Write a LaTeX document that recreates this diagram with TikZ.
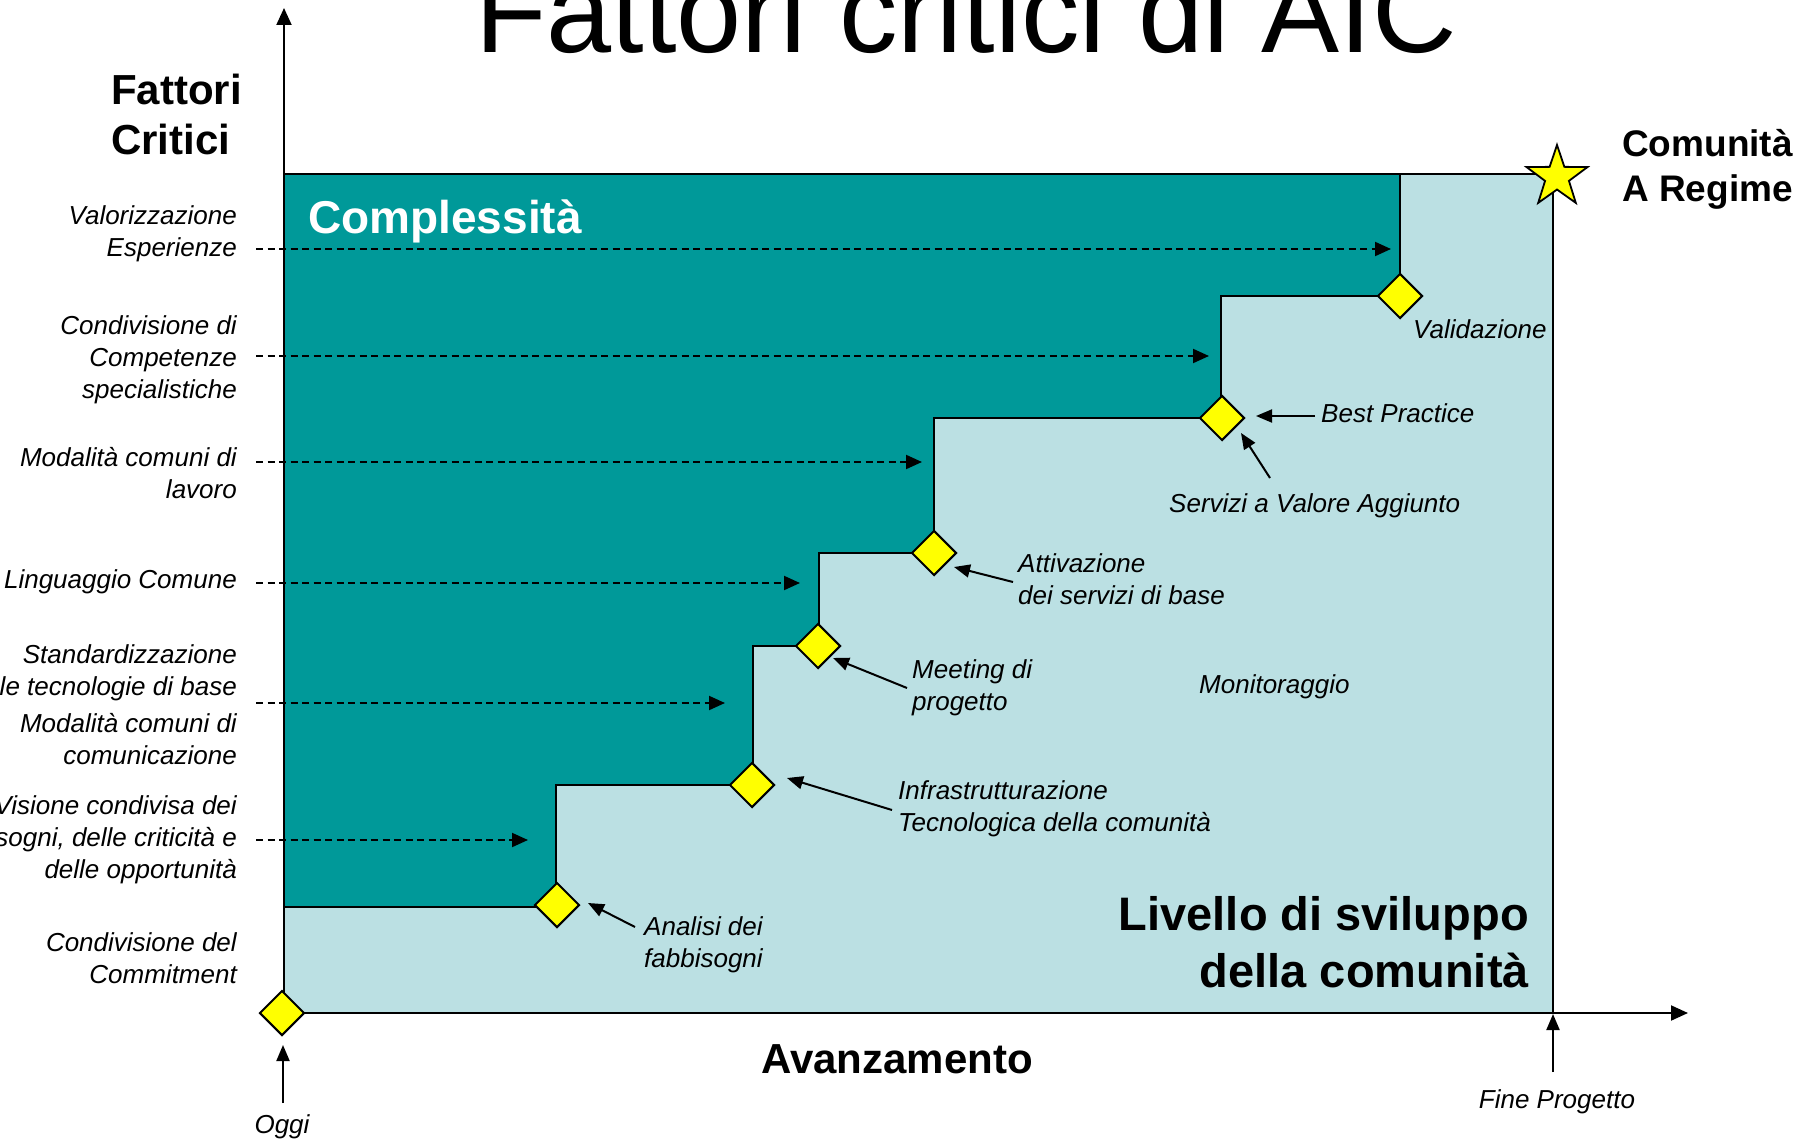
\documentclass[tikz,border=0pt]{standalone}
\usepackage{fontspec}
\setmainfont{Liberation Sans}
\usetikzlibrary{arrows.meta,shapes.geometric}
\definecolor{darkteal}{HTML}{009999}
\definecolor{lightteal}{HTML}{BBE0E3}
\definecolor{yel}{HTML}{FFFF00}
\begin{document}
\begin{tikzpicture}[x=1pt,y=-1pt,
  lab/.style={font={\itshape\fontsize{26}{32}\selectfont}, inner sep=0pt},
  leftlab/.style={lab, anchor=base east, align=right},
  annlab/.style={lab, anchor=base west, align=left},
  boldlab/.style={inner sep=0pt},
  dia/.style={diamond, draw=black, line width=2pt, fill=yel, minimum width=45pt, minimum height=45pt, inner sep=0pt},
  dasharrow/.style={line width=2pt, dash pattern=on 7pt off 4.5pt, -{Triangle[length=16pt,width=14pt]}},
  annarrow/.style={line width=2pt, -{Triangle[length=16pt,width=13pt]}},
  axisarrow/.style={line width=2pt, -{Triangle[length=17pt,width=15pt]}},
  stair/.style={line width=2.2pt, line join=miter}
]
\useasboundingbox (0,0) rectangle (1802,1142);
\fill[white] (0,0) rectangle (1802,1142);

% title
\node[anchor=base, inner sep=0pt, font={\fontsize{117}{140}\selectfont}] (title) at (966,53) {Fattori critici di AIC};

% areas
\fill[lightteal] (284,174) rectangle (1553,1013);
\fill[darkteal] (284,174) -- (1400,174) -- (1400,296) -- (1221,296) -- (1221,418)
  -- (934,418) -- (934,553) -- (819,553) -- (819,646) -- (753,646) -- (753,785)
  -- (556,785) -- (556,907) -- (284,907) -- cycle;
\draw[stair] (284,907) -- (556,907) -- (556,785) -- (753,785) -- (753,646) -- (819,646)
  -- (819,553) -- (934,553) -- (934,418) -- (1221,418) -- (1221,296) -- (1400,296) -- (1400,174);
\draw[line width=2.2pt] (284,174) -- (1553,174);
\draw[line width=1.8pt] (1553,174) -- (1553,1013);

% axes
\coordinate (origin) at (284,1013);
\coordinate (ytip) at (284,8);
\coordinate (xtip) at (1688,1013);
\draw[axisarrow] (origin) -- (ytip);
\draw[axisarrow] (origin) -- (xtip);

% axis labels (base = baseline of last line)
\node[boldlab, anchor=base west, align=left, font={\bfseries\fontsize{42}{50}\selectfont}] (ylab) at (111,155) {Fattori\\Critici};
\node[boldlab, anchor=base, font={\bfseries\fontsize{42}{50}\selectfont}] (xlab) at (897,1073) {Avanzamento};
\node[boldlab, anchor=base west, text=white, font={\bfseries\fontsize{46}{55}\selectfont}] (compl) at (308,234) {Complessità};
\node[boldlab, anchor=base west, align=left, font={\bfseries\fontsize{37}{45}\selectfont}] (regime) at (1622,202) {Comunità\\A Regime};
\node[boldlab, anchor=base east, align=right, font={\bfseries\fontsize{47}{57}\selectfont}] (livello) at (1529,987) {Livello di sviluppo\\della comunità};

% left factor labels
\node[leftlab] (f1) at (237,256) {Valorizzazione\\Esperienze};
\node[leftlab] (f2) at (237,398) {Condivisione di\\Competenze\\specialistiche};
\node[leftlab] (f3) at (237,498) {Modalità comuni di\\lavoro};
\node[leftlab] (f4) at (237,588) {Linguaggio Comune};
\node[leftlab] (f5) at (237,695) {Standardizzazione\\le tecnologie di base};
\node[leftlab] (f6) at (237,764) {Modalità comuni di\\comunicazione};
\node[leftlab] (f7) at (237,878) {Visione condivisa dei\\sogni, delle criticità e\\delle opportunità};
\node[leftlab] (f8) at (237,983) {Condivisione del\\Commitment};

% dashed arrows
\coordinate (d1s) at (256,249); \coordinate (d1e) at (1391,249);
\coordinate (d2s) at (256,356); \coordinate (d2e) at (1209,356);
\coordinate (d3s) at (256,462); \coordinate (d3e) at (922,462);
\coordinate (d4s) at (256,583); \coordinate (d4e) at (800,583);
\coordinate (d5s) at (256,703); \coordinate (d5e) at (725,703);
\coordinate (d6s) at (256,840); \coordinate (d6e) at (528,840);
\draw[dasharrow] (d1s) -- (d1e);
\draw[dasharrow] (d2s) -- (d2e);
\draw[dasharrow] (d3s) -- (d3e);
\draw[dasharrow] (d4s) -- (d4e);
\draw[dasharrow] (d5s) -- (d5e);
\draw[dasharrow] (d6s) -- (d6e);

% milestones
\node[dia] (m0) at (282,1013) {};
\node[dia] (m1) at (557,905) {};
\node[dia] (m2) at (752,785) {};
\node[dia] (m3) at (818,646) {};
\node[dia] (m4) at (934,553) {};
\node[dia] (m5) at (1222,418) {};
\node[dia] (m6) at (1400,296) {};
\node[star, star points=5, star point ratio=2.55, minimum size=64pt, inner sep=0pt,
  fill=yel, draw=black, line width=1.8pt] (goal) at (1557,177) {};

% annotation labels
\node[annlab] (a1) at (644,967) {Analisi dei\\fabbisogni};
\node[annlab] (a2) at (898,831) {Infrastrutturazione\\Tecnologica della comunità};
\node[annlab] (a3) at (912,710) {Meeting di\\progetto};
\node[annlab] (a4) at (1018,604) {Attivazione\\dei servizi di base};
\node[annlab] (a5) at (1199,693) {Monitoraggio};
\node[annlab] (a6) at (1169,512) {Servizi a Valore Aggiunto};
\node[annlab] (a7) at (1321,422) {Best Practice};
\node[annlab] (a8) at (1413,338) {Validazione};
\node[lab, anchor=base] (oggi) at (282,1133) {Oggi};
\node[lab, anchor=base] (fine) at (1557,1108) {Fine Progetto};

% annotation arrows
\coordinate (s1) at (635,927); \coordinate (t1) at (588,903);
\coordinate (s2) at (892,810); \coordinate (t2) at (787,778);
\coordinate (s3) at (907,688); \coordinate (t3) at (833,658);
\coordinate (s4) at (1013,582); \coordinate (t4) at (954,567);
\coordinate (s6) at (1270,478); \coordinate (t6) at (1241,433);
\coordinate (s7) at (1315,416); \coordinate (t7) at (1256,416);
\coordinate (so) at (283,1103); \coordinate (to) at (283,1045);
\coordinate (sf) at (1553,1072); \coordinate (tf) at (1553,1014);
\draw[annarrow] (s1) -- (t1);
\draw[annarrow] (s2) -- (t2);
\draw[annarrow] (s3) -- (t3);
\draw[annarrow] (s4) -- (t4);
\draw[annarrow] (s6) -- (t6);
\draw[annarrow] (s7) -- (t7);
\draw[annarrow] (so) -- (to);
\draw[annarrow] (sf) -- (tf);
\end{tikzpicture}
\end{document}
